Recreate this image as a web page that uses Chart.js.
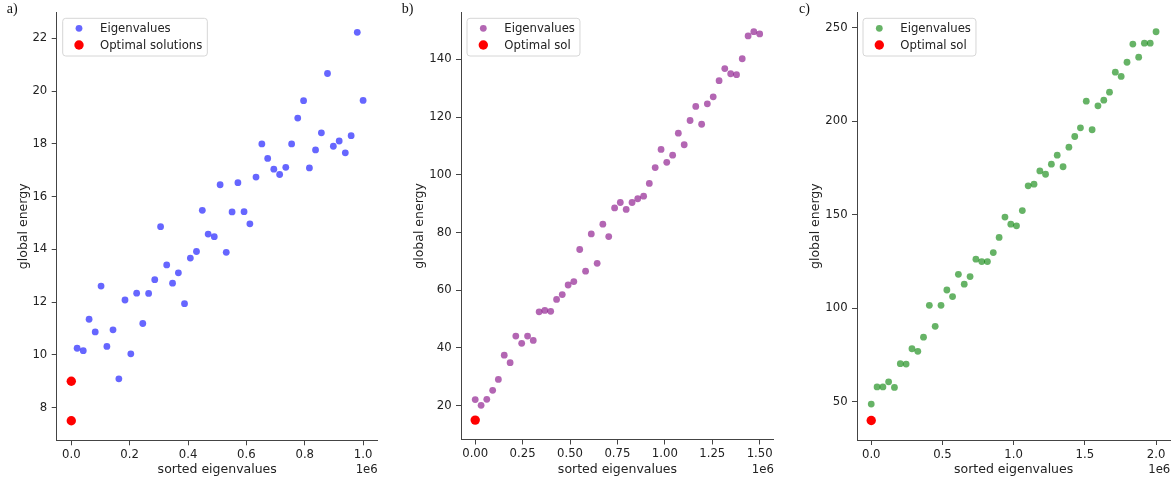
<!DOCTYPE html>
<html>
<head>
<meta charset="utf-8">
<script src="https://cdn.jsdelivr.net/npm/chart.js@4.4.1/dist/chart.umd.min.js"></script>
<style>
  html, body { margin: 0; padding: 0; background: #fff; }
  #wrap { position: relative; width: 1175px; height: 480px; }
  #wrap canvas { position: absolute; top: 0; }
</style>
</head>
<body>
<div id="wrap">
  <canvas id="panelA" width="390" height="480" style="left:0px"></canvas>
  <canvas id="panelB" width="395" height="480" style="left:390px"></canvas>
  <canvas id="panelC" width="390" height="480" style="left:785px"></canvas>
</div>
<script>
// sorted eigenvalues (in units of 1e6) and the global energy of each one
const eigA = [0.000, 0.020, 0.041, 0.061, 0.082, 0.102, 0.122, 0.143, 0.163, 0.184,
              0.204, 0.224, 0.245, 0.265, 0.286, 0.306, 0.327, 0.347, 0.367, 0.388,
              0.408, 0.429, 0.449, 0.469, 0.490, 0.510, 0.531, 0.551, 0.571, 0.592,
              0.612, 0.633, 0.653, 0.673, 0.694, 0.714, 0.735, 0.755, 0.776, 0.796,
              0.816, 0.837, 0.857, 0.878, 0.898, 0.918, 0.939, 0.959, 0.980, 1.000];
const energyA = [9.00, 10.25, 10.16, 11.35, 10.87, 12.61, 10.32, 10.95, 9.09, 12.08,
                 10.04, 12.34, 11.19, 12.33, 12.85, 14.86, 13.41, 12.72, 13.11, 11.94,
                 13.67, 13.92, 15.48, 14.58, 14.48, 16.45, 13.89, 15.42, 16.53, 15.43,
                 14.97, 16.74, 18.00, 17.45, 17.04, 16.84, 17.11, 18.00, 18.98, 19.64,
                 17.09, 17.77, 18.42, 20.67, 17.91, 18.11, 17.66, 18.31, 22.23, 19.65];
const optEigA = [0, 0];
const optEnergyA = [9.0, 7.5];

const eigB = [0.000, 0.031, 0.061, 0.092, 0.122, 0.153, 0.184, 0.214, 0.245, 0.276,
              0.306, 0.337, 0.367, 0.398, 0.429, 0.459, 0.490, 0.520, 0.551, 0.582,
              0.612, 0.643, 0.673, 0.704, 0.735, 0.765, 0.796, 0.827, 0.857, 0.888,
              0.918, 0.949, 0.980, 1.010, 1.041, 1.071, 1.102, 1.133, 1.163, 1.194,
              1.224, 1.255, 1.286, 1.316, 1.347, 1.378, 1.408, 1.439, 1.469, 1.500];
const energyB = [22.1, 20.1, 22.2, 25.3, 29.1, 37.5, 34.9, 44.1, 41.6, 44.1,
                 42.6, 52.5, 53.0, 52.7, 56.8, 58.5, 61.8, 63.0, 74.1, 66.6,
                 79.5, 69.3, 82.9, 78.6, 88.5, 90.4, 88.0, 90.4, 91.7, 92.6,
                 97.0, 102.5, 108.8, 104.3, 106.8, 114.4, 110.4, 118.8, 123.7, 117.5,
                 124.6, 127.0, 132.6, 136.8, 135.0, 134.7, 140.2, 148.1, 149.6, 148.8];
const optEigB = [0];
const optEnergyB = [15.0];

const eigC = [0.000, 0.041, 0.082, 0.122, 0.163, 0.204, 0.245, 0.286, 0.327, 0.367,
              0.408, 0.449, 0.490, 0.531, 0.571, 0.612, 0.653, 0.694, 0.735, 0.776,
              0.816, 0.857, 0.898, 0.939, 0.980, 1.020, 1.061, 1.102, 1.143, 1.184,
              1.224, 1.265, 1.306, 1.347, 1.388, 1.429, 1.469, 1.510, 1.551, 1.592,
              1.633, 1.673, 1.714, 1.755, 1.796, 1.837, 1.878, 1.918, 1.959, 2.000];
const energyC = [48.8, 58.0, 58.0, 60.7, 57.7, 70.4, 70.2, 78.4, 77.0, 84.6,
                 101.6, 90.4, 101.6, 109.8, 106.3, 118.2, 112.9, 117.0, 126.3, 125.0,
                 125.0, 129.8, 137.9, 148.8, 145.0, 144.1, 152.3, 165.5, 166.4, 173.5,
                 171.7, 177.1, 181.9, 175.7, 186.2, 191.9, 196.5, 210.8, 195.5, 208.3,
                 211.3, 215.6, 226.3, 224.0, 231.6, 241.3, 234.3, 241.8, 241.8, 247.9];
const optEigC = [0];
const optEnergyC = [40.0];

// tick positions
const xTicksA = [0, 0.2, 0.4, 0.6, 0.8, 1.0];
const xTicksB = [0, 0.25, 0.5, 0.75, 1.0, 1.25, 1.5];
const xTicksC = [0, 0.5, 1.0, 1.5, 2.0];
const yTicksA = [8, 10, 12, 14, 16, 18, 20, 22];
const yTicksB = [20, 40, 60, 80, 100, 120, 140];
const yTicksC = [50, 100, 150, 200, 250];

const FONT = '"DejaVu Sans", sans-serif';
const INK = '#222';
const AXIS = '#444';

Chart.defaults.font.family = FONT;
Chart.defaults.color = INK;

// panel letter, legend box and the 1e6 offset label
const panelDecor = {
  id: 'panelDecor',
  afterDraw(chart, args, opts) {
    const { ctx, chartArea } = chart;
    ctx.save();

    ctx.font = '14px "Liberation Serif", serif';
    ctx.fillStyle = '#111';
    ctx.textAlign = 'left';
    ctx.textBaseline = 'alphabetic';
    ctx.fillText(opts.letter, opts.letterX, 12.5);

    ctx.font = '11.7px ' + FONT;
    ctx.fillStyle = INK;
    ctx.textAlign = 'right';
    ctx.textBaseline = 'middle';
    ctx.fillText('1e6', chartArea.right, 469.5);

    // legend
    ctx.textAlign = 'left';
    const labels = chart.data.datasets.slice().reverse();
    const textW = Math.max(...labels.map(d => ctx.measureText(d.label).width));
    const bx = chartArea.left + 6, by = chartArea.top + 6;
    const bw = 37.3 + textW + 5, bh = 37.7;
    ctx.beginPath();
    ctx.roundRect(bx, by, bw, bh, 3);
    ctx.fillStyle = 'rgba(255,255,255,0.8)';
    ctx.fill();
    ctx.strokeStyle = '#d6d6d6';
    ctx.lineWidth = 1;
    ctx.stroke();
    labels.forEach((d, i) => {
      const cy = by + 10 + i * 16.7;
      ctx.beginPath();
      ctx.arc(bx + 16.3, cy, d.pointRadius, 0, Math.PI * 2);
      ctx.fillStyle = d.backgroundColor;
      ctx.fill();
      ctx.fillStyle = INK;
      ctx.fillText(d.label, bx + 37.3, cy + 0.5);
    });
    ctx.restore();
  }
};

function toPoints(xs, ys) {
  return xs.map((x, i) => ({ x: x, y: ys[i] }));
}

function makePanel(id, p) {
  new Chart(document.getElementById(id), {
    type: 'scatter',
    data: {
      datasets: [
        {
          label: p.optLabel,
          data: toPoints(p.optX, p.optY),
          backgroundColor: 'rgb(255,0,0)',
          pointRadius: 4.7,
          borderWidth: 0,
          order: 0
        },
        {
          label: 'Eigenvalues',
          data: toPoints(p.x, p.y),
          backgroundColor: p.color,
          pointRadius: 3.4,
          borderWidth: 0,
          order: 1
        }
      ]
    },
    options: {
      responsive: false,
      animation: false,
      events: [],
      layout: { padding: { left: 0, top: 12.3, right: p.padRight, bottom: 0 } },
      plugins: {
        legend: { display: false },
        tooltip: { enabled: false },
        panelDecor: { letter: p.letter, letterX: p.letterX }
      },
      scales: {
        x: {
          type: 'linear',
          min: p.xMin,
          max: p.xMax,
          afterBuildTicks: s => { s.ticks = p.xTicks.map(v => ({ value: v })); },
          afterFit: s => { s.height = p.xHeight; s.paddingLeft = 0; s.paddingRight = 0; },
          ticks: {
            autoSkip: false,
            maxRotation: 0,
            padding: 2.5,
            font: { size: 11.7 },
            color: INK,
            callback: v => Number(v).toFixed(p.xDigits)
          },
          grid: { display: true, drawOnChartArea: false, drawTicks: true, tickLength: 5, color: AXIS, lineWidth: 1 },
          border: { display: true, color: AXIS, width: 1 },
          title: {
            display: true,
            text: 'sorted eigenvalues',
            font: { size: 12.5 },
            color: INK,
            padding: { top: 0, bottom: 3 }
          }
        },
        y: {
          type: 'linear',
          min: p.yMin,
          max: p.yMax,
          afterBuildTicks: s => { s.ticks = p.yTicks.map(v => ({ value: v })); },
          afterFit: s => { s.width = p.yWidth; s.paddingTop = 0; s.paddingBottom = 0; },
          ticks: {
            autoSkip: false,
            padding: 4.4,
            font: { size: 11.7 },
            color: INK,
            callback: v => String(v)
          },
          grid: { display: true, drawOnChartArea: false, drawTicks: true, tickLength: 5, color: AXIS, lineWidth: 1 },
          border: { display: true, color: AXIS, width: 1 },
          title: {
            display: true,
            text: 'global energy',
            font: { size: 12.5 },
            color: INK,
            padding: { top: p.yTitlePad, bottom: 0 }
          }
        }
      }
    },
    plugins: [panelDecor]
  });
}

makePanel('panelA', {
  x: eigA, y: energyA, optX: optEigA, optY: optEnergyA,
  optLabel: 'Optimal solutions', color: 'rgba(0,0,255,0.6)',
  xMin: -0.05, xMax: 1.05, yMin: 6.76, yMax: 22.99,
  xTicks: xTicksA, yTicks: yTicksA, xDigits: 1,
  yWidth: 56.7, xHeight: 39.7, padRight: 12.3, yTitlePad: 16.7,
  letter: 'a)', letterX: 6.7
});

makePanel('panelB', {
  x: eigB, y: energyB, optX: optEigB, optY: optEnergyB,
  optLabel: 'Optimal sol', color: 'rgba(128,0,128,0.6)',
  xMin: -0.075, xMax: 1.575, yMin: 8.27, yMax: 156.3,
  xTicks: xTicksB, yTicks: yTicksB, xDigits: 2,
  yWidth: 71, xHeight: 40.5, padRight: 11.1, yTitlePad: 22,
  letter: 'b)', letterX: 11.7
});

makePanel('panelC', {
  x: eigC, y: energyC, optX: optEigC, optY: optEnergyC,
  optLabel: 'Optimal sol', color: 'rgba(0,128,0,0.6)',
  xMin: -0.1, xMax: 2.1, yMin: 29.6, yMax: 258.3,
  xTicks: xTicksC, yTicks: yTicksC, xDigits: 1,
  yWidth: 72, xHeight: 40, padRight: 4.7, yTitlePad: 23,
  letter: 'c)', letterX: 14
});
</script>
</body>
</html>
